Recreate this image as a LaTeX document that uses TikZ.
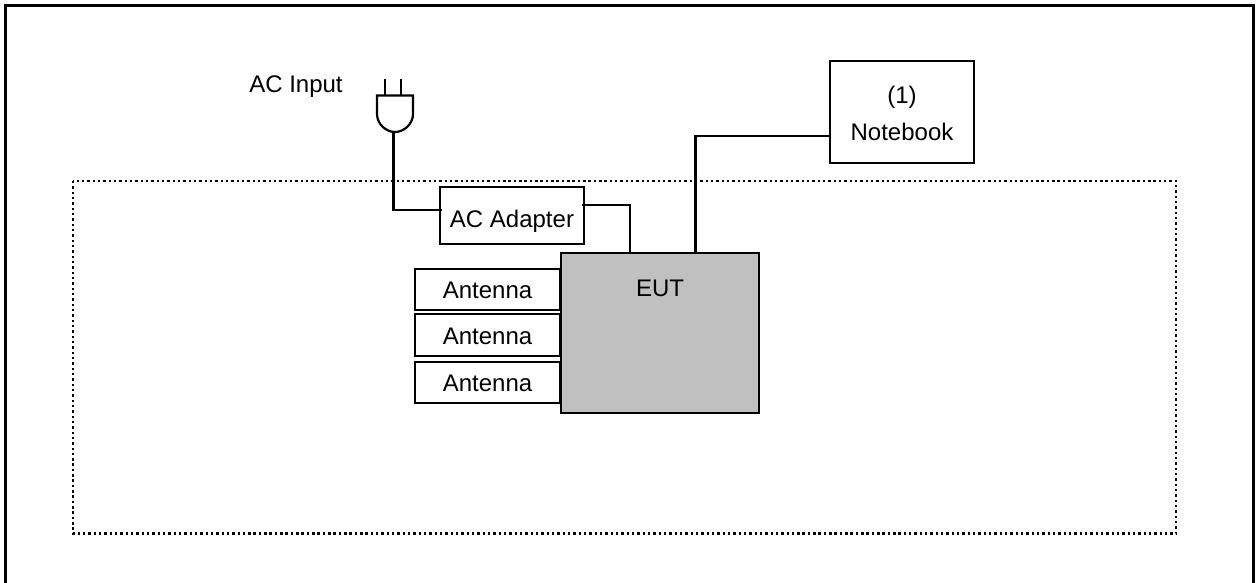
\documentclass[tikz,border=0pt]{standalone}
\usepackage{fontspec}
\setmainfont{Liberation Sans}
\definecolor{eutgray}{HTML}{C0C0C0}
\begin{document}
\begin{tikzpicture}[x=1pt,y=-1pt,
  box/.style={draw=black,line width=2.2pt,fill=white,inner sep=0pt,outer sep=0pt,align=center,font=\fontsize{24}{37}\selectfont},
  antbox/.style={box,line width=2.4pt,minimum width=145pt,text height=18pt,text depth=0pt},
  label/.style={inner sep=0pt,font=\fontsize{24}{28}\selectfont,text=black},
  cord/.style={draw=black,line width=2.2pt},
]
\useasboundingbox (0,0) rectangle (1259,583);
\fill[white] (0,0) rectangle (1259,583);
% outer frame (open at the bottom edge)
\draw[line width=3pt,line cap=butt] (5.5,583) -- (5.5,5.5) -- (1253.5,5.5) -- (1253.5,583);
% dotted area
\draw[line width=2.4pt,dash pattern=on 2.4pt off 2.93pt] (73,181) rectangle (1176,533.5);
% nodes
\node[box,minimum width=144pt,minimum height=57pt,text height=24pt,text depth=0pt] (adapter) at (512,215.5) {AC Adapter};
\node[box,minimum width=144pt,minimum height=102pt] (notebook) at (902,112) {\rule{0pt}{21pt}(1)\\Notebook};
\node[box,fill=eutgray,minimum width=198pt,minimum height=160pt] (eut) at (660,333) {};
\node[label] (euttext) at (660,288) {EUT};
\node[antbox,minimum height=41pt] (ant1) at (487.5,289.5) {Antenna};
\node[antbox,minimum height=41.5pt] (ant2) at (487.5,335) {Antenna};
\node[antbox,minimum height=41.5pt] (ant3) at (487.5,382.5) {Antenna};
\node[label] (acinput) at (296,87) {AC Input};
% plug
\coordinate (plugbottom) at (393.5,132);
\draw[cord] (385,79) -- (385,95.5) (400.7,79) -- (400.7,95.5);
\draw[cord] (377,95.5) -- (413,95.5) -- (413,114) .. controls (413,124) and (404,132) .. (395,132) .. controls (386,132) and (377,124) .. (377,114) -- cycle;
% connectors
\coordinate (adapterin) at (442,210);
\coordinate (adapterout) at (582,205);
\coordinate (eutpower) at (630,253);
\coordinate (eutdata) at (695.5,253);
\coordinate (nbport) at (830,136);
\draw[cord] (plugbottom) -- (plugbottom |- adapterin) -- (adapterin);
\draw[cord] (adapterout) -- (eutpower |- adapterout) -- (eutpower);
\draw[cord] (nbport) -- (eutdata |- nbport) -- (eutdata);
\end{tikzpicture}
\end{document}
